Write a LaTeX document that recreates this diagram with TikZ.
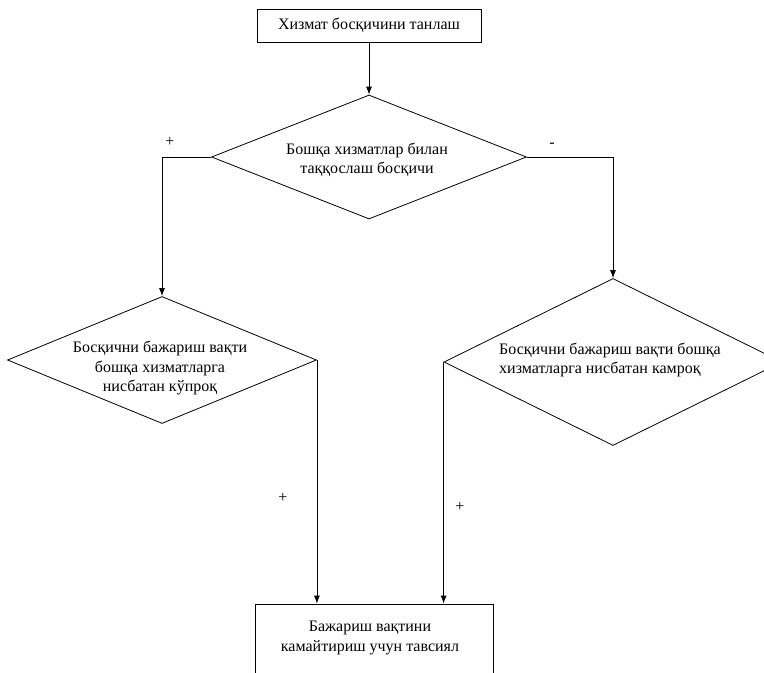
\documentclass[tikz,border=0pt]{standalone}
\usepackage{fontspec}
\setmainfont{Liberation Serif}
\usetikzlibrary{shapes.geometric, positioning, arrows.meta}

\begin{document}
\begin{tikzpicture}[x=0.75pt, y=-0.75pt, >={Latex[length=6pt,width=4.5pt]},
    font=\fontsize{12}{14.5}\selectfont, line width=0.6pt,
    blok/.style={draw, rectangle, inner sep=2pt},
    romb/.style={draw, diamond, inner sep=0pt},
    matn/.style={align=center, inner sep=0pt}]
    \clip (0,0) rectangle (764,672);

    % Бошланғич блок
    \node[blok, minimum width=168pt, minimum height=24.75pt, text depth=4pt] (tanlash) at (369,26) {Хизмат босқичини танлаш};

    % Таққослаш
    \node[romb, minimum width=236.25pt, minimum height=93pt] (taqqos) at (369,157) {};
    \node[matn] (taqqosmatn) at (367,160) {Бошқа хизматлар билан\\ таққослаш босқичи};

    % Кўпроқ / камроқ
    \node[romb, minimum width=231.75pt, minimum height=95.25pt] (kuproq) at (162,360) {};
    \node[matn] (kuproqmatn) at (160,368) {Босқични бажариш вақти\\бошқа хизматларга\\нисбатан кўпроқ};
    \node[romb, minimum width=253.5pt, minimum height=125.25pt] (kamroq) at (613,362) {};
    \node[matn, align=left] (kamroqmatn) at (610,360) {Босқични бажариш вақти бошқа\\хизматларга нисбатан камроқ};

    % Тавсия
    \node[blok, minimum width=178.5pt, minimum height=64.5pt] (tavsiya) at (374,647) {};
    \node[matn] (tavsiyamatn) at (370,638) {Бажариш вақтини\\камайтириш учун тавсиял};

    % Боғланишлар
    \draw[->] (tanlash) -- (taqqos);
    \draw[->] (taqqos.west) -| (kuproq.north);
    \draw[->] (taqqos.east) -| (kamroq.north);
    \draw[->] (kuproq.east) -- (kuproq.east |- tavsiya.north);
    \draw[->] (kamroq.west) -- (kamroq.west |- tavsiya.north);

    % Белгилар
    \node (plusa) at (170,142) {+};
    \node (minus) at (552,145) {-};
    \node (plusb) at (283,498) {+};
    \node (plusc) at (460,507) {+};
\end{tikzpicture}
\end{document}
